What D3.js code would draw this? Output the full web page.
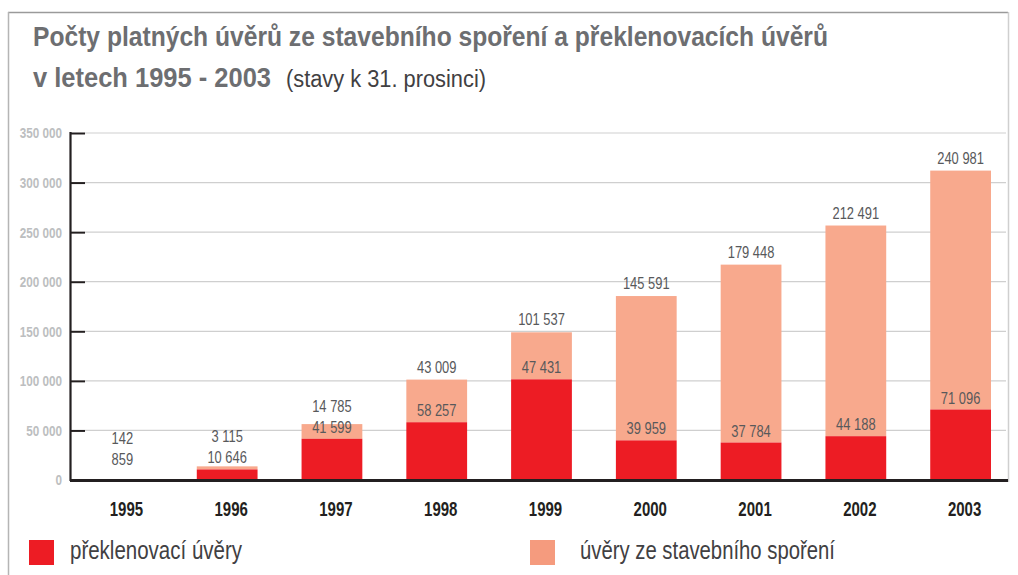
<!DOCTYPE html>
<html><head><meta charset="utf-8">
<script src="https://cdnjs.cloudflare.com/ajax/libs/d3/7.8.5/d3.min.js"></script>
<style>
html,body{margin:0;padding:0;background:#fff;}
svg{display:block;}
text{font-family:'Liberation Sans','Arial',sans-serif;}
</style></head>
<body>
<svg id="chart" width="1018" height="575"></svg>
<script>
const years = ["1995","1996","1997","1998","1999","2000","2001","2002","2003"];
const bridgingLoans = [859, 10646, 41599, 58257, 101537, 39959, 37784, 44188, 71096];   // red
const savingsLoans  = [142, 3115, 14785, 43009, 47431, 145591, 179448, 212491, 240981]; // salmon
// labels as printed in the original (1999 labels printed in swapped positions)
const labelTop   = [142, 3115, 14785, 43009, 101537, 145591, 179448, 212491, 240981];
const labelInner = [859, 10646, 41599, 58257, 47431, 39959, 37784, 44188, 71096];
const yTicks = [0, 50000, 100000, 150000, 200000, 250000, 300000, 350000];
const seriesNames = ["překlenovací úvěry", "úvěry ze stavebního spoření"];
const titleLine1 = "Počty platných úvěrů ze stavebního spoření a překlenovacích úvěrů";
const titleLine2a = "v letech 1995 - 2003";
const titleLine2b = "(stavy k 31. prosinci)";

const RED = "#ed1c24", SALMON = "#f8a98d", SALMON_LEG = "#f59b7e";
const svg = d3.select("#chart");
const loc = d3.formatLocale({decimal:",", thousands:"\u00a0", grouping:[3], currency:["",""]});
const fmt = loc.format(",d");

function condense(sel, factor){
  sel.each(function(){
    const len = this.getComputedTextLength();
    d3.select(this).attr("textLength", (len*factor).toFixed(2)).attr("lengthAdjust","spacingAndGlyphs");
  });
  return sel;
}

// frame
svg.append("line").attr("x1",8).attr("x2",1008).attr("y1",12.5).attr("y2",12.5).attr("stroke","#9a9a9a").attr("stroke-width",1.5);
svg.append("line").attr("x1",8.5).attr("x2",8.5).attr("y1",12).attr("y2",575).attr("stroke","#b5b5b5").attr("stroke-width",1.5);
svg.append("line").attr("x1",1008.5).attr("x2",1008.5).attr("y1",12).attr("y2",482).attr("stroke","#cfcfcf").attr("stroke-width",1.5);

// titles
svg.append("text").attr("x",33).attr("y",46).attr("fill","#6d6e71").attr("font-weight","bold")
  .attr("font-size",28).attr("textLength",795).attr("lengthAdjust","spacingAndGlyphs").text(titleLine1);
svg.append("text").attr("x",33).attr("y",87).attr("fill","#6d6e71").attr("font-weight","bold")
  .attr("font-size",28).attr("textLength",238).attr("lengthAdjust","spacingAndGlyphs").text(titleLine2a);
svg.append("text").attr("x",286).attr("y",87).attr("fill","#414042")
  .attr("font-size",23).attr("textLength",200).attr("lengthAdjust","spacingAndGlyphs").text(titleLine2b);

const x = d3.scaleBand().domain(years).range([70, 1013]).paddingInner(0.42).paddingOuter(0.21);
const y = d3.scaleLinear().domain([0, 350000]).range([480, 133]);

// gridlines
svg.append("g").selectAll("line").data(yTicks.filter(d=>d>0)).join("line")
  .attr("x1",85).attr("x2",1006).attr("y1",d=>y(d)).attr("y2",d=>y(d))
  .attr("stroke","#cfcfcf").attr("stroke-width",1.2);

// y axis
const yAxis = svg.append("g").attr("transform","translate(70,0)")
  .call(d3.axisRight(y).tickValues(yTicks).tickSize(15).tickFormat(""));
yAxis.select(".domain").remove();
yAxis.selectAll(".tick line").attr("stroke","#231f20").attr("stroke-width",2);
svg.append("line").attr("x1",70.5).attr("x2",70.5).attr("y1",y(350000)-1).attr("y2",481).attr("stroke","#231f20").attr("stroke-width",2.2);
condense(svg.append("g").selectAll("text").data(yTicks).join("text")
  .attr("x",62).attr("y",d=>y(d)).attr("dy","0.36em").attr("text-anchor","end")
  .attr("fill","#bcbec0").attr("font-weight","bold").attr("font-size",15)
  .text(d=>fmt(d)), 0.78);

// bars
const bars = svg.append("g");
years.forEach((yr,i)=>{
  const r = bridgingLoans[i], s = savingsLoans[i];
  bars.append("rect").attr("x",x(yr)).attr("width",x.bandwidth())
    .attr("y",y(r+s)).attr("height",y(r)-y(r+s)).attr("fill",SALMON);
  bars.append("rect").attr("x",x(yr)).attr("width",x.bandwidth())
    .attr("y",y(r)).attr("height",Math.max(1.2, y(0)-y(r))).attr("fill",RED);
});

// x axis line
svg.append("line").attr("x1",70).attr("x2",1008).attr("y1",480.5).attr("y2",480.5).attr("stroke","#231f20").attr("stroke-width",3);

// value labels
const lab = svg.append("g").attr("fill","#58595b").attr("font-size",17).attr("text-anchor","middle");
years.forEach((yr,i)=>{
  const r = bridgingLoans[i], s = savingsLoans[i];
  const cx = x(yr) + x.bandwidth()/2;
  const innerY = Math.min(y(r) - 6, y(0) - 15);
  const topY = Math.min(y(r+s) - 7, innerY - 21);
  condense(lab.append("text").attr("x",cx).attr("y",innerY).text(fmt(labelInner[i])), 0.76);
  condense(lab.append("text").attr("x",cx).attr("y",topY).text(fmt(labelTop[i])), 0.76);
});

// year labels
condense(svg.append("g").selectAll("text").data(years).join("text")
  .attr("x",d=>x(d)+x.bandwidth()/2+4).attr("y",516).attr("text-anchor","middle")
  .attr("fill","#231f20").attr("font-weight","bold").attr("font-size",20).text(d=>d), 0.75);

// legend
const legend = [
  {name:seriesNames[0], color:RED, sx:29, tx:70, tw:172},
  {name:seriesNames[1], color:SALMON_LEG, sx:530, tx:580, tw:255}
];
legend.forEach(l=>{
  svg.append("rect").attr("x",l.sx).attr("y",540).attr("width",25).attr("height",25).attr("fill",l.color);
  svg.append("text").attr("x",l.tx).attr("y",559).attr("fill","#414042").attr("font-size",26)
    .attr("textLength",l.tw).attr("lengthAdjust","spacingAndGlyphs").text(l.name);
});
</script>
</body></html>
